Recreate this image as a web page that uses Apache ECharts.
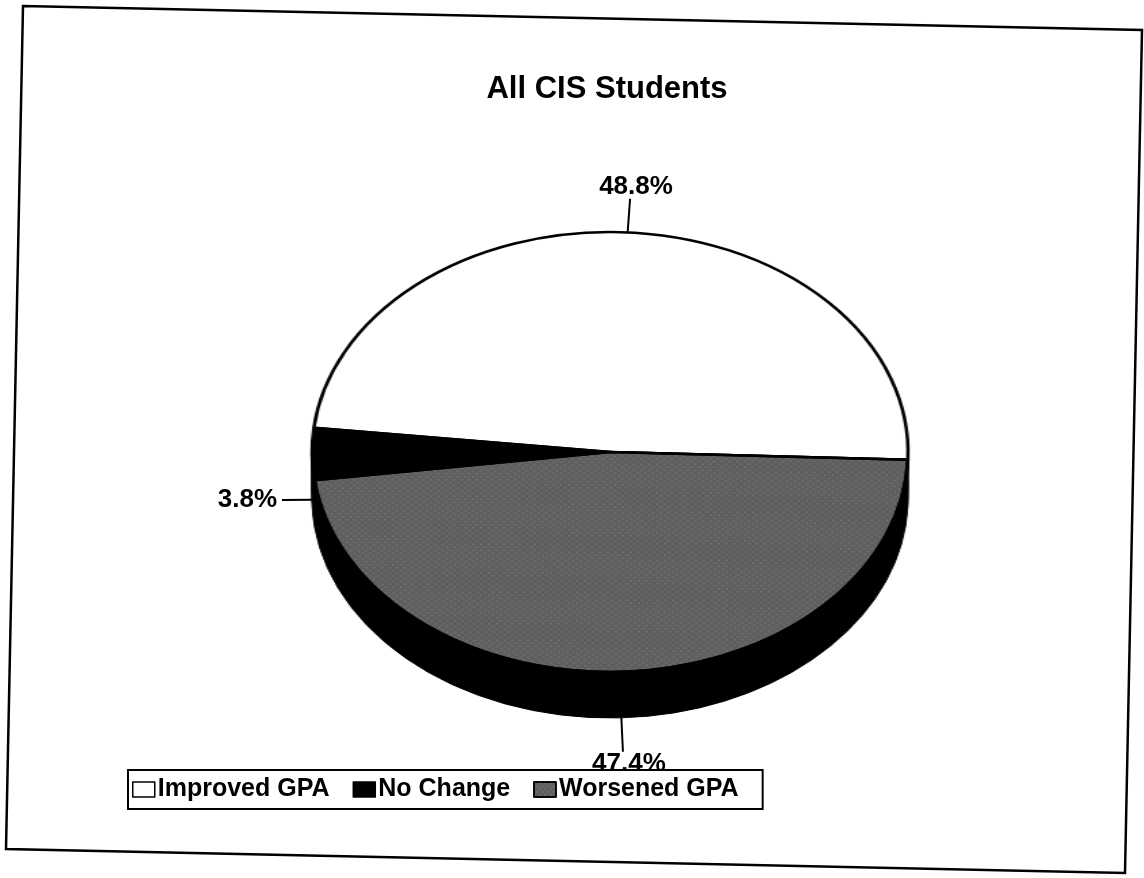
<!DOCTYPE html>
<html>
<head>
<meta charset="utf-8">
<script src="https://cdn.jsdelivr.net/npm/echarts@6/dist/echarts.min.js"></script>
<style>
  html, body { margin: 0; padding: 0; background: #fff; overflow: hidden; }
  #wrap { position: relative; width: 1144px; height: 878px; overflow: hidden; }
  /* the scanned pie is drawn as an ellipse: stretch the circular pie sideways */
  #pie { position: absolute; left: 0; top: 0; width: 1144px; height: 878px;
         transform: scaleX(1.3545); transform-origin: 610px 0; }
  #chart { position: absolute; left: 0; top: 0; width: 1144px; height: 878px; }
</style>
</head>
<body>
<div id="wrap">
  <div id="pie"></div>
  <div id="chart"></div>
</div>
<script>
// data
var categories = ['Improved GPA', 'No Change', 'Worsened GPA']
var shares = [48.8, 3.8, 47.4]
var sliceColors = ['#ffffff', '#000000', '#5e5e5e']

var fontFamily = 'Liberation Sans'
var halftone = {
  symbol: 'rect',
  symbolSize: 0.5,
  color: 'rgba(255,255,255,0.35)',
  dashArrayX: [2, 2],
  dashArrayY: [2, 2],
  rotation: 0.78
}

function sliceStyle (i) {
  var s = { color: sliceColors[i] }
  if (i === 2) s.decal = halftone
  return s
}

// ---- pie body (stretched into an ellipse by css) ----
var pieChart = echarts.init(document.getElementById('pie'))
var pieSeries = []
// black side wall: a stack of black pies pushed downwards
var depth = 46
for (var k = 12; k >= 1; k--) {
  pieSeries.push({
    type: 'pie',
    center: [610, 452 + depth * k / 12],
    radius: 220,
    startAngle: -2,
    clockwise: false,
    silent: true,
    z: 1,
    label: { show: false },
    labelLine: { show: false },
    itemStyle: { color: '#000', borderColor: '#000', borderWidth: 1 },
    data: shares.map(function (v, i) { return { name: categories[i], value: v } })
  })
}
// top face
pieSeries.push({
  name: 'All CIS Students',
  type: 'pie',
  center: [610, 452],
  radius: 220,
  startAngle: -2,
  clockwise: false,
  silent: true,
  z: 2,
  label: { show: false },
  labelLine: { show: false },
  itemStyle: { borderColor: '#000', borderWidth: 2.5 },
  data: shares.map(function (v, i) {
    return { name: categories[i], value: v, itemStyle: sliceStyle(i) }
  })
})
pieChart.setOption({ animation: false, series: pieSeries }, true)

// ---- frame, title, legend and percentage labels ----
var myChart = echarts.init(document.getElementById('chart'))

var labelStyle = {
  show: true,
  position: 'outside',
  formatter: function (p) { return p.value.toFixed(1) + '%' },
  fontFamily: fontFamily,
  fontWeight: 'bold',
  fontSize: 26,
  color: '#000'
}
var lineStyle = { color: '#000', width: 2 }
var clear = { color: 'rgba(0,0,0,0)', borderWidth: 0 }

function labelData (shown) {
  return shares.map(function (v, i) {
    var on = shown.indexOf(i) >= 0
    return {
      name: categories[i],
      value: v,
      label: { show: on },
      labelLine: { show: on }
    }
  })
}

var option = {
  animation: false,
  title: {
    text: 'All CIS Students',
    left: 602,
    textAlign: 'center',
    top: 69,
    textStyle: { fontFamily: fontFamily, fontWeight: 'bold', fontSize: 31, color: '#000' }
  },
  graphic: [
    {
      // scanned page frame, slightly skewed
      type: 'polygon',
      shape: { points: [[23, 6], [1142, 30], [1125, 873], [6, 849]] },
      style: { fill: 'none', stroke: '#000', lineWidth: 2.5 },
      silent: true
    }
  ],
  legend: {
    data: categories.map(function (c, i) {
      return { name: c, itemStyle: Object.assign({ borderColor: '#000', borderWidth: 1.5 }, sliceStyle(i)) }
    }),
    left: 128,
    top: 770,
    orient: 'horizontal',
    icon: 'rect',
    itemWidth: 22,
    itemHeight: 15,
    itemGap: 23,
    padding: [7, 24, 7, 4],
    borderColor: '#000',
    borderWidth: 2,
    textStyle: { fontFamily: fontFamily, fontWeight: 'bold', fontSize: 25, color: '#000', padding: [0, 0, 0, -2] }
  },
  series: [
    {
      // labels for the top and bottom slices, sized to the pie's outer edge
      name: 'labels',
      type: 'pie',
      center: [610, 475],
      radius: 243,
      startAngle: -2,
      clockwise: false,
      silent: true,
      itemStyle: clear,
      label: labelStyle,
      labelLine: { length: 33, length2: 1, lineStyle: lineStyle },
      labelLayout: function (params) {
        if (params.dataIndex === 0) return { align: 'center', verticalAlign: 'bottom' }
        return { align: 'center', verticalAlign: 'top' }
      },
      data: labelData([0, 2])
    },
    {
      // label for the thin left slice, placed at the side wall
      name: 'side label',
      type: 'pie',
      center: [610, 497],
      radius: 297,
      startAngle: -2,
      clockwise: false,
      silent: true,
      itemStyle: clear,
      label: labelStyle,
      labelLine: { length: 30, length2: 1, lineStyle: lineStyle },
      labelLayout: function () {
        return { align: 'right', verticalAlign: 'middle' }
      },
      data: labelData([1])
    }
  ]
}
myChart.setOption(option, true)
</script>
</body>
</html>
